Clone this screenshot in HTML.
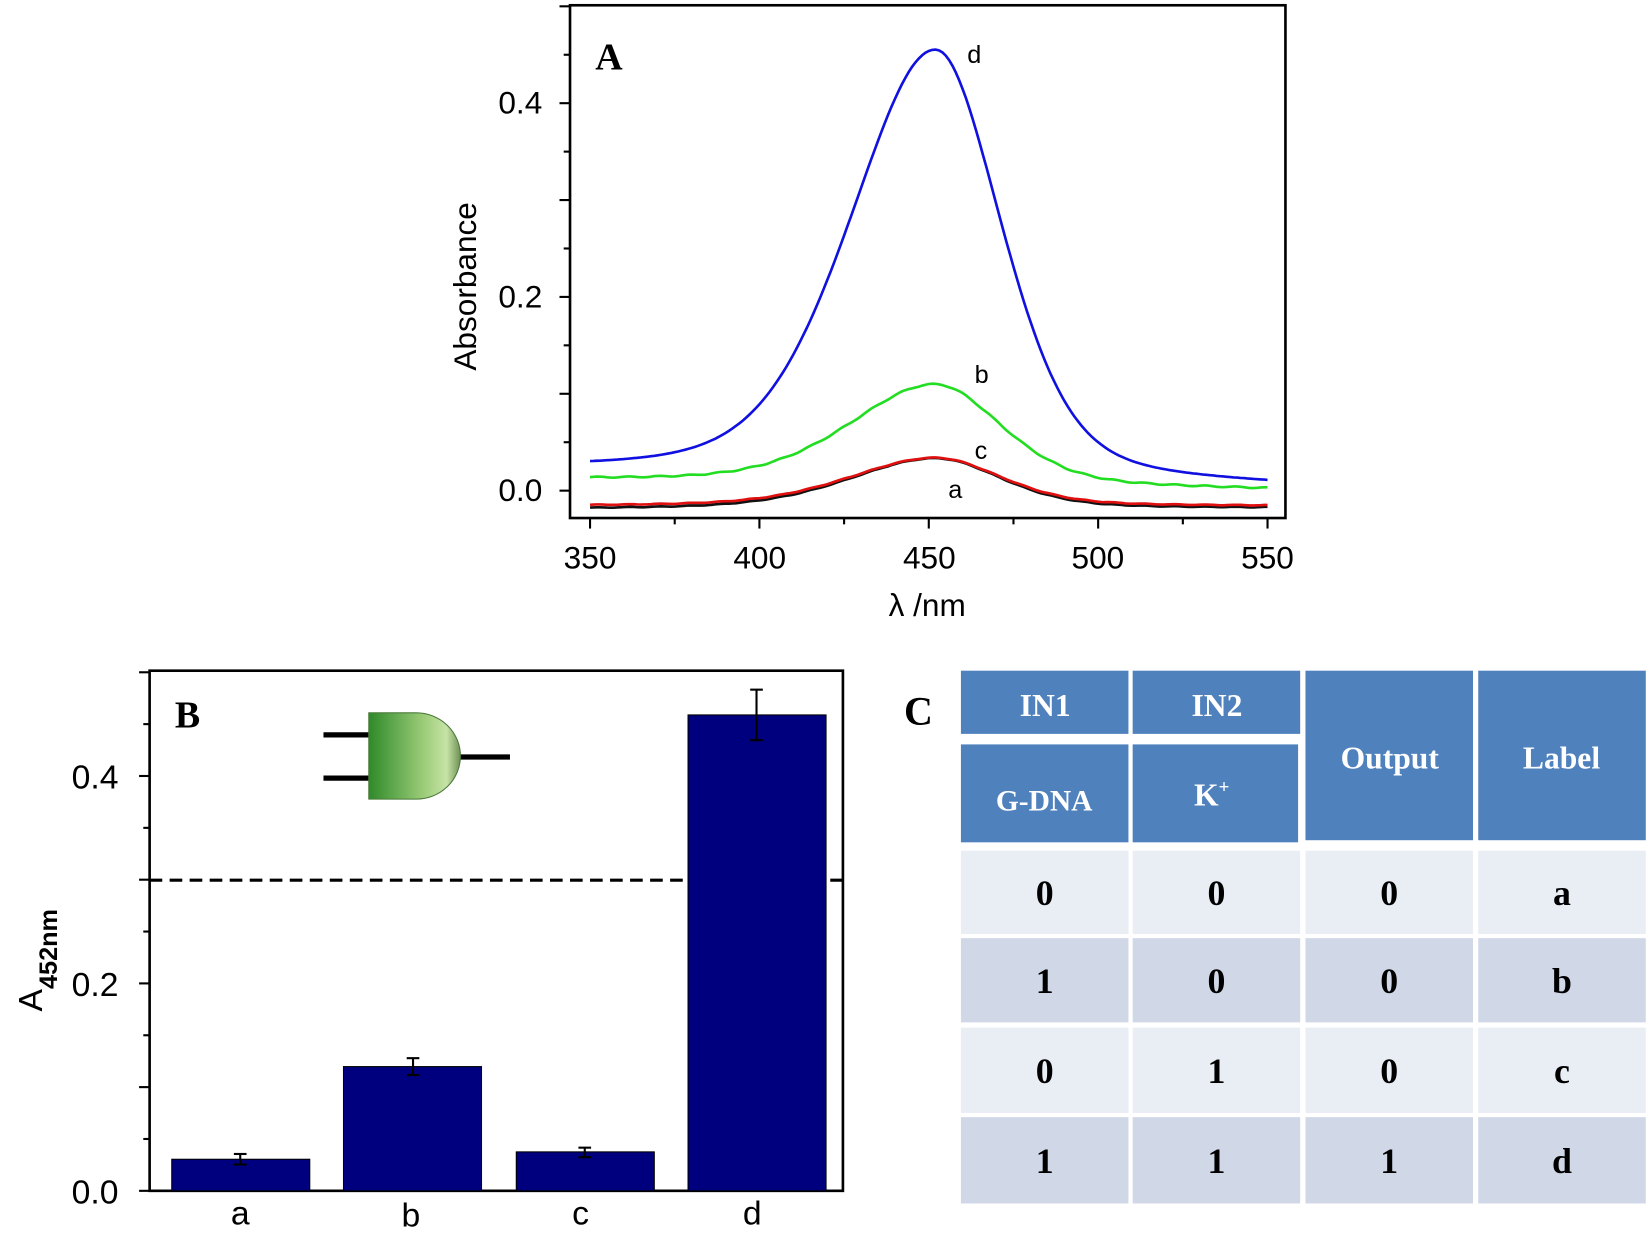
<!DOCTYPE html>
<html><head><meta charset="utf-8">
<style>
html,body{margin:0;padding:0;background:#fff;}
svg{display:block;}
text{font-family:"Liberation Sans",sans-serif;}
text.serif, .serif text{font-family:"Liberation Serif",serif;font-weight:bold;}
</style></head>
<body>
<svg id="s" width="1650" height="1234" viewBox="0 0 1566 1172" preserveAspectRatio="none" xmlns="http://www.w3.org/2000/svg">
<defs>
<linearGradient id="g1" x1="0" x2="1" y1="0" y2="0">
<stop offset="0" stop-color="#2f8a2a"/><stop offset="0.6" stop-color="#9ccc78"/><stop offset="0.85" stop-color="#c6e3a6"/><stop offset="1" stop-color="#6f8f55"/>
</linearGradient>
</defs>
<!-- Panel A -->
<rect x="541" y="5" width="679" height="487" fill="none" stroke="#000" stroke-width="2.5"/>
<g id="ticksA" stroke="#000" stroke-width="2"></g>
<text x="473" y="108" font-size="30">0.4</text>
<text x="473" y="292" font-size="30">0.2</text>
<text x="473" y="476" font-size="30">0.0</text>
<text x="560" y="540" font-size="30" text-anchor="middle">350</text>
<text x="721" y="540" font-size="30" text-anchor="middle">400</text>
<text x="882" y="540" font-size="30" text-anchor="middle">450</text>
<text x="1042" y="540" font-size="30" text-anchor="middle">500</text>
<text x="1203" y="540" font-size="30" text-anchor="middle">550</text>
<text x="880" y="585" font-size="30" text-anchor="middle">λ /nm</text>
<text transform="translate(452,272) rotate(-90)" font-size="30" text-anchor="middle">Absorbance</text>
<text x="565" y="66" font-size="36" class="serif">A</text>
<g id="curves" fill="none" stroke-width="2.5"></g>
<text x="918" y="60" font-size="24">d</text>
<text x="925" y="364" font-size="24">b</text>
<text x="925" y="436" font-size="24">c</text>
<text x="900" y="473" font-size="24">a</text>
<!-- Panel B -->
<rect x="142" y="637" width="658" height="494" fill="none" stroke="#000" stroke-width="2.5"/>
<g id="ticksB" stroke="#000" stroke-width="2"></g>
<text x="68" y="1143" font-size="32">0.0</text>
<text x="68" y="946" font-size="32">0.2</text>
<text x="68" y="749" font-size="32">0.4</text>
<text transform="translate(40,912) rotate(-90)" font-size="32" text-anchor="middle">A<tspan font-size="24" font-weight="bold" dy="14">452nm</tspan></text>
<line x1="142" y1="836" x2="800" y2="836" stroke="#000" stroke-width="3" stroke-dasharray="12,7"/>
<g fill="#00007f" stroke="#000" stroke-width="1">
<rect x="163" y="1101" width="131" height="30"/>
<rect x="326" y="1013" width="131" height="118"/>
<rect x="490" y="1094" width="131" height="37"/>
<rect x="653" y="679" width="131" height="452"/>
</g>
<g stroke="#000" stroke-width="2">
<line x1="228" y1="1096" x2="228" y2="1106"/><line x1="222" y1="1096" x2="234" y2="1096"/><line x1="222" y1="1106" x2="234" y2="1106"/>
<line x1="392" y1="1005" x2="392" y2="1021"/><line x1="386" y1="1005" x2="398" y2="1005"/><line x1="386" y1="1021" x2="398" y2="1021"/>
<line x1="555" y1="1090" x2="555" y2="1099"/><line x1="549" y1="1090" x2="561" y2="1090"/><line x1="549" y1="1099" x2="561" y2="1099"/>
<line x1="718" y1="655" x2="718" y2="703"/><line x1="712" y1="655" x2="724" y2="655"/><line x1="712" y1="703" x2="724" y2="703"/>
</g>
<text x="228" y="1163" font-size="32" text-anchor="middle">a</text>
<text x="390" y="1165" font-size="32" text-anchor="middle">b</text>
<text x="551" y="1163" font-size="32" text-anchor="middle">c</text>
<text x="714" y="1163" font-size="32" text-anchor="middle">d</text>
<text x="166" y="691" font-size="36" class="serif">B</text>
<!-- gate -->
<g>
<line x1="307" y1="698" x2="352" y2="698" stroke="#000" stroke-width="5"/>
<line x1="307" y1="739" x2="352" y2="739" stroke="#000" stroke-width="5"/>
<line x1="435" y1="719" x2="484" y2="719" stroke="#000" stroke-width="5"/>
<path d="M350,677 L395,677 A42,41 0 0 1 395,759 L350,759 Z" fill="url(#g1)" stroke="#4a7a3a" stroke-width="1"/>
</g>
<!-- Panel C -->
<text x="858" y="688" font-size="38" class="serif">C</text>
<g fill="#4f81bd">
<rect x="912" y="637" width="159" height="60"/>
<rect x="1075" y="637" width="159" height="60"/>
<rect x="912" y="707" width="159" height="93"/>
<rect x="1075" y="707" width="157" height="93"/>
<rect x="1239" y="637" width="159" height="161"/>
<rect x="1403" y="637" width="159" height="161"/>
</g>
<g id="rows"></g>
<g fill="#fff" font-size="30" text-anchor="middle">
<text class="serif" x="992" y="680">IN1</text>
<text class="serif" x="1155" y="680">IN2</text>
<text class="serif" x="991" y="770" font-size="28">G-DNA</text>
<text class="serif" x="1150" y="765">K<tspan font-size="18" dy="-12">+</tspan></text>
<text class="serif" x="1319" y="730">Output</text>
<text class="serif" x="1482" y="730">Label</text>
</g>
</svg>
<script>
var NS="http://www.w3.org/2000/svg";
function el(p,t,a){var e=document.createElementNS(NS,t);for(var k in a)e.setAttribute(k,a[k]);p.appendChild(e);return e;}
var tA=document.getElementById('ticksA');
function X(nm){return 560+(nm-350)*643/200;}
function Y(v){return 466-v*920;}
for(var nm=350;nm<=550;nm+=25){var big=nm%50==0;el(tA,'line',{x1:X(nm),x2:X(nm),y1:492,y2:492+(big?10:6)});}
for(var v=0;v<=0.5;v+=0.05){var y=Y(v);if(y<5)break;var big=Math.round(v*100)%10==0;el(tA,'line',{x1:541,x2:541-(big?10:6),y1:y,y2:y});}
var tB=document.getElementById('ticksB');
function YB(v){return 1131-v*985;}
for(var v=0;v<=0.5;v+=0.05){var y=YB(v);if(y<637)break;var big=Math.round(v*100)%10==0;el(tB,'line',{x1:142,x2:142-(big?10:6),y1:y,y2:y});}
function prof(nm){var d=nm-452;var w=d<0?30:23;var g=Math.exp(-Math.LN2*(d/w)*(d/w));var l=1/(1+(d/w)*(d/w));return 0.65*g+0.35*l;}
var C=document.getElementById('curves');
function curve(col,b0,b1,amp,noise){var p='';for(var nm=350;nm<=550;nm+=1){var base=b0+(b1-b0)*(nm-350)/200;var v=base+amp*prof(nm)+noise*Math.sin(nm*0.7)*0.3;p+=(nm==350?'M':'L')+X(nm).toFixed(1)+','+Y(v).toFixed(1);}el(C,'path',{d:p,stroke:col});}
curve('#111',-0.019,-0.018,0.052,0.001);
curve('#e01010',-0.016,-0.016,0.05,0.001);
curve('#22dd22',0.011,0.001,0.104,0.002);
curve('#1010e0',0.018,0.003,0.445,0);
var R=document.getElementById('rows');
var rows=[[808,887,'#e9edf4',['0','0','0','a']],[891,971,'#d0d8e8',['1','0','0','b']],[976,1057,'#e9edf4',['0','1','0','c']],[1061,1143,'#d0d8e8',['1','1','1','d']]];
var cx=[[912,1071],[1075,1234],[1239,1398],[1403,1562]];
rows.forEach(function(r){cx.forEach(function(c,i){el(R,'rect',{x:c[0],y:r[0],width:c[1]-c[0],height:r[1]-r[0],fill:r[2]});var t=el(R,'text',{x:(c[0]+c[1])/2,y:(r[0]+r[1])/2+12,'font-size':34,'text-anchor':'middle','class':'serif'});t.textContent=r[3][i];});});
</script>
</body></html>
